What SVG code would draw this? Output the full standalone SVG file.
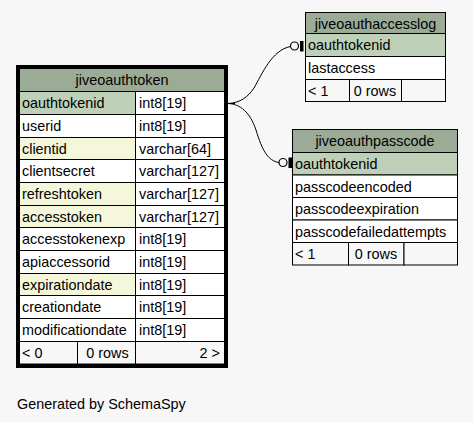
<svg xmlns="http://www.w3.org/2000/svg" width="473" height="422" viewBox="0 0 473 422">
<style>
text{font-family:"Liberation Sans",Arial,Helvetica,sans-serif;font-size:14.4px;fill:#000}
.c{fill:#fff;stroke:#000;stroke-width:1}
.h{fill:#9bab96;stroke:#000;stroke-width:1}
.pk{fill:#bed1b8;stroke:#000;stroke-width:1}
.ix{fill:#f4f7da;stroke:#000;stroke-width:1}
.ft{fill:#f7f7f7;stroke:#000;stroke-width:1}
.m{text-anchor:middle}
.e{text-anchor:end}
.edge{fill:none;stroke:#000;stroke-width:1}
.dot{fill:#f7f7f7;stroke:#000;stroke-width:1.2}
</style>
<rect width="473" height="422" fill="#f7f7f7"/>
<g id="connectors">
<path class="edge" d="M228,103.5 C240,103 248,97 254,88 C262,74 272,50 290.5,46.5"/>
<circle class="dot" cx="294.5" cy="46" r="4"/>
<rect x="300" y="41" width="3.5" height="10.5" fill="#000"/>
<path class="edge" d="M228,103.5 C240,104 250,112 256,130 C262,150 268,161 279,162.5"/>
<circle class="dot" cx="283" cy="162.5" r="4"/>
<rect x="288.5" y="157.5" width="3.5" height="10.5" fill="#000"/>
<path class="edge" d="M228,103.5 H235"/>
</g>
<g id="jiveoauthtoken">
<rect x="16" y="65" width="212" height="303" fill="#000"/>
<rect class="h" x="19.5" y="68.5" width="205" height="23"/>
<text class="m" x="122" y="85">jiveoauthtoken</text>
<rect class="pk" x="19.5" y="91.5" width="116" height="23"/><rect class="c" x="135.5" y="91.5" width="89" height="23"/>
<text x="22" y="108">oauthtokenid</text><text x="139" y="108">int8[19]</text>
<rect class="c" x="19.5" y="114.5" width="116" height="23"/><rect class="c" x="135.5" y="114.5" width="89" height="23"/>
<text x="22" y="131">userid</text><text x="139" y="131">int8[19]</text>
<rect class="ix" x="19.5" y="137.5" width="116" height="22"/><rect class="c" x="135.5" y="137.5" width="89" height="22"/>
<text x="22" y="153.5">clientid</text><text x="139" y="153.5">varchar[64]</text>
<rect class="c" x="19.5" y="159.5" width="116" height="23"/><rect class="c" x="135.5" y="159.5" width="89" height="23"/>
<text x="22" y="176">clientsecret</text><text x="139" y="176">varchar[127]</text>
<rect class="ix" x="19.5" y="182.5" width="116" height="23"/><rect class="c" x="135.5" y="182.5" width="89" height="23"/>
<text x="22" y="199">refreshtoken</text><text x="139" y="199">varchar[127]</text>
<rect class="ix" x="19.5" y="205.5" width="116" height="22"/><rect class="c" x="135.5" y="205.5" width="89" height="22"/>
<text x="22" y="221.5">accesstoken</text><text x="139" y="221.5">varchar[127]</text>
<rect class="c" x="19.5" y="227.5" width="116" height="23"/><rect class="c" x="135.5" y="227.5" width="89" height="23"/>
<text x="22" y="244">accesstokenexp</text><text x="139" y="244">int8[19]</text>
<rect class="c" x="19.5" y="250.5" width="116" height="23"/><rect class="c" x="135.5" y="250.5" width="89" height="23"/>
<text x="22" y="267">apiaccessorid</text><text x="139" y="267">int8[19]</text>
<rect class="ix" x="19.5" y="273.5" width="116" height="22"/><rect class="c" x="135.5" y="273.5" width="89" height="22"/>
<text x="22" y="289.5">expirationdate</text><text x="139" y="289.5">int8[19]</text>
<rect class="c" x="19.5" y="295.5" width="116" height="23"/><rect class="c" x="135.5" y="295.5" width="89" height="23"/>
<text x="22" y="312">creationdate</text><text x="139" y="312">int8[19]</text>
<rect class="c" x="19.5" y="318.5" width="116" height="23"/><rect class="c" x="135.5" y="318.5" width="89" height="23"/>
<text x="22" y="335">modificationdate</text><text x="139" y="335">int8[19]</text>
<rect class="ft" x="19.5" y="341.5" width="58" height="22.5"/><rect class="ft" x="77.5" y="341.5" width="58" height="22.5"/><rect class="ft" x="135.5" y="341.5" width="89" height="22.5"/>
<text x="22" y="358">&lt; 0</text><text class="m" x="107.5" y="358">0 rows</text><text class="e" x="220" y="358">2 &gt;</text>
</g>
<g id="jiveoauthaccesslog">
<rect class="h" x="305.5" y="12.5" width="140" height="21"/>
<text class="m" x="375.5" y="28.5">jiveoauthaccesslog</text>
<rect class="pk" x="305.5" y="33.5" width="140" height="23"/>
<text x="308" y="50">oauthtokenid</text>
<rect class="c" x="305.5" y="56.5" width="140" height="23"/>
<text x="308" y="73">lastaccess</text>
<rect class="ft" x="305.5" y="79.5" width="44" height="22"/><rect class="ft" x="349.5" y="79.5" width="52" height="22"/><rect class="ft" x="401.5" y="79.5" width="44" height="22"/>
<text x="308" y="95.5">&lt; 1</text><text class="m" x="375" y="95.5">0 rows</text>
</g>
<g id="jiveoauthpasscode">
<rect class="h" x="292.5" y="129.5" width="165" height="23"/>
<text class="m" x="375" y="146">jiveoauthpasscode</text>
<rect class="pk" x="292.5" y="152.5" width="165" height="22.5"/>
<text x="295" y="168.5">oauthtokenid</text>
<rect class="c" x="292.5" y="175" width="165" height="22.5"/>
<text x="295" y="191.5">passcodeencoded</text>
<rect class="c" x="292.5" y="197.5" width="165" height="22.5"/>
<text x="295" y="214">passcodeexpiration</text>
<rect class="c" x="292.5" y="220" width="165" height="22.5"/>
<text x="295" y="236.5">passcodefailedattempts</text>
<rect class="ft" x="292.5" y="242.5" width="56" height="22.5"/><rect class="ft" x="348.5" y="242.5" width="55.5" height="22.5"/><rect class="ft" x="404" y="242.5" width="53.5" height="22.5"/>
<text x="295" y="259">&lt; 1</text><text class="m" x="376" y="259">0 rows</text>
</g>
<text x="17" y="409">Generated by SchemaSpy</text>
</svg>
